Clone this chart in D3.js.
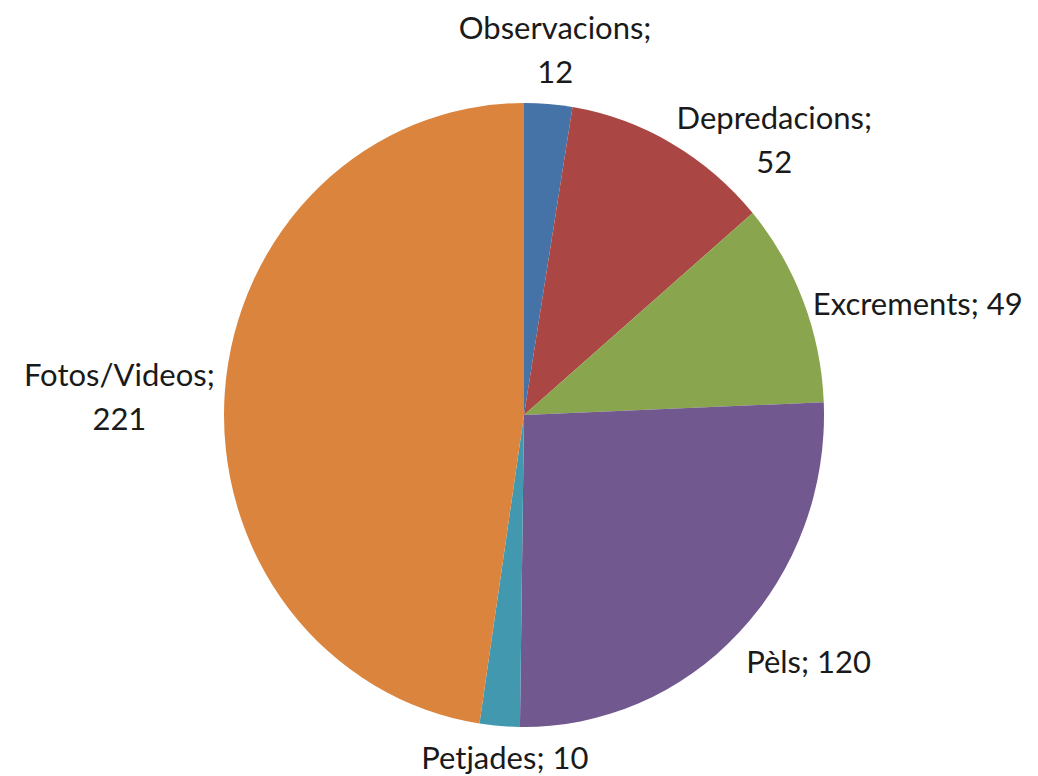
<!DOCTYPE html>
<html>
<head>
<meta charset="utf-8">
<script src="https://cdn.jsdelivr.net/npm/d3@7"></script>
<style>
  html, body { margin: 0; padding: 0; background: #fff; }
  svg text { font-family: Lato, "Open Sans", sans-serif; fill: #1a1a1a; }
</style>
</head>
<body>
<svg id="chart" width="1038" height="776"></svg>
<script>
// ── Data ─────────────────────────────────────────
const categories = ['Observacions', 'Depredacions', 'Excrements', 'Pèls', 'Petjades', 'Fotos/Videos'];
const values     = [12, 52, 49, 120, 10, 221];
const colors     = ['#4572A7', '#AA4643', '#89A54E', '#71588F', '#4198AF', '#DB843D'];
// labels that Excel wrapped onto two lines
const wrapped    = ['Observacions', 'Depredacions', 'Fotos/Videos'];

// ── Layout ───────────────────────────────────────
const width = 1038, height = 776;
const cx = 524, cy = 415;
const radius = 300;
const yStretch = 1.04;        // reference pie is slightly taller than wide
const labelR = 310;
const fontSize = 31, lineH = 44, ascent = 33;

const svg = d3.select('#chart');

const pie = d3.pie().sort(null).value(d => d.value);
const arc = d3.arc().innerRadius(0).outerRadius(radius);

const rows = categories.map((c, i) => ({ name: c, value: values[i], color: colors[i] }));
const arcs = pie(rows);

// ── Slices ───────────────────────────────────────
svg.append('g')
  .attr('transform', `translate(${cx},${cy}) scale(1,${yStretch})`)
  .selectAll('path')
  .data(arcs)
  .enter()
  .append('path')
  .attr('d', arc)
  .attr('fill', d => d.data.color);

// ── Labels (outside, best-fit style) ────────────
const lg = svg.append('g');
arcs.forEach(d => {
  const a = (d.startAngle + d.endAngle) / 2;
  const sin = Math.sin(a), cos = Math.cos(a);
  const px = cx + labelR * sin;
  const py = cy - labelR * yStretch * cos;

  const lines = wrapped.includes(d.data.name)
    ? [d.data.name + ';', String(d.data.value)]
    : [d.data.name + '; ' + d.data.value];
  const h = lines.length * lineH;

  let anchor = 'middle';
  if (sin > 0.3) anchor = 'start';
  else if (sin < -0.3) anchor = 'end';

  let top;
  if (cos > 0.95) top = py - h;           // above the slice
  else if (cos < -0.5) top = py;          // below the slice
  else top = py - h / 2 + 6;              // beside the slice

  const t = lg.append('text')
    .attr('text-anchor', lines.length > 1 ? 'middle' : anchor)
    .attr('font-size', fontSize);

  // two-line labels are centred on their own block
  let x = px;
  if (lines.length > 1 && anchor !== 'middle') {
    const probe = lg.append('text').attr('font-size', fontSize).text(lines[0]);
    const w = probe.node().getComputedTextLength();
    probe.remove();
    x = anchor === 'start' ? px + w / 2 : px - w / 2;
  }
  if (anchor === 'middle') x = px + 6;

  lines.forEach((ln, j) => {
    t.append('tspan')
      .attr('x', x)
      .attr('y', top + ascent + j * lineH)
      .text(ln);
  });
});
</script>
</body>
</html>
